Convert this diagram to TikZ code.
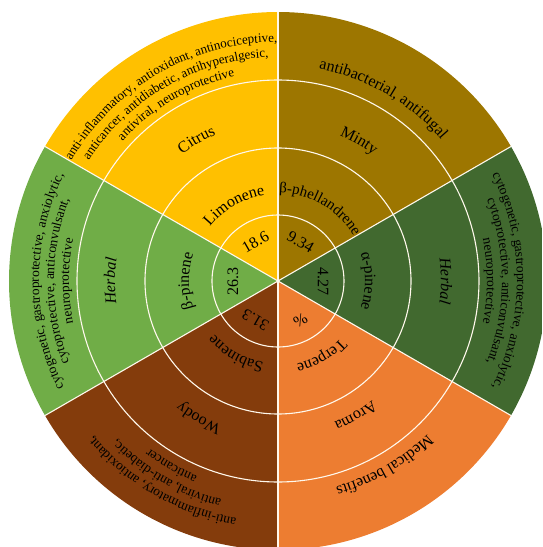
\documentclass[tikz,border=0pt]{standalone}
\usepackage{fontspec}
\setmainfont{Liberation Serif}
\usetikzlibrary{decorations.text}
\definecolor{cyel}{HTML}{FFC000}
\definecolor{cgold}{HTML}{9D7600}
\definecolor{cdkg}{HTML}{41692F}
\definecolor{corg}{HTML}{ED7D31}
\definecolor{cbrn}{HTML}{843C0C}
\definecolor{cltg}{HTML}{70AD47}
\definecolor{csep}{HTML}{FFF8EC}
\newcommand{\labfont}{\fontsize{16pt}{18pt}\selectfont}
\newcommand{\labfontb}{\fontsize{15pt}{18pt}\selectfont}
\newcommand{\multfont}{\fontsize{13.5pt}{15pt}\selectfont}
\newcommand{\multfontb}{\fontsize{13pt}{15pt}\selectfont}
% #1 centre angle, #2 baseline radius, #3 font, #4 text
\newcommand{\arctext}[4]{%
  \path[decorate,decoration={text along path,text align=center,text={|#3|#4}}]
    ({#1+31}:#2) arc[start angle={#1+31},end angle={#1-31},radius=#2];}
\tikzset{
  sepline/.style={draw=csep,line width=1.1pt},
  numlbl/.style={font=\fontsize{16pt}{18pt}\selectfont,inner sep=0pt,text=black},
}
\begin{document}
\begin{tikzpicture}
\useasboundingbox (-278pt,-266pt) rectangle (264pt,281pt);
\clip (-278pt,-266pt) rectangle (264pt,281pt);
% sectors
\foreach \a/\c in {90/cyel,30/cgold,-30/cdkg,-90/corg,-150/cbrn,150/cltg}
  \fill[\c] (0,0) -- (\a:269pt) arc[start angle=\a,end angle={\a+60},radius=269pt] -- cycle;
% rings and spokes
\foreach \r in {66,133,201}
  \draw[sepline] (0,0) circle[radius=\r pt];
\foreach \a in {90,30,-30,-90,-150,150}
  \draw[sepline] (0,0) -- (\a:269pt);
% inner ring: values
\node[numlbl,rotate=30]   (v1) at (120:45pt) {18.6};
\node[numlbl,rotate=-30]  (v2) at (60:45pt) {9.34};
\node[numlbl,rotate=-90]  (v3) at (0:45pt) {4.27};
\node[numlbl,rotate=-150] (v4) at (-60:45pt) {\%};
\node[numlbl,rotate=150]  (v5) at (-120:45pt) {31.3};
\node[numlbl,rotate=90]   (v6) at (180:45pt) {26.3};
% second ring: terpenes
\arctext{120}{87pt}{\labfont}{Limonene}
\arctext{60}{88pt}{\labfontb}{β-phellandrene}
\arctext{0}{87pt}{\labfont}{α-pinene}
\arctext{-60}{85pt}{\labfont}{Terpene}
\arctext{-120}{83pt}{\labfont}{Sabinene}
\arctext{180}{89pt}{\labfont}{β-pinene}
% third ring: aroma
\arctext{120}{159pt}{\labfont}{Citrus}
\arctext{60}{158pt}{\labfont}{Minty}
\arctext{0}{163pt}{\labfont\itshape}{Herbal}
\arctext{-60}{152pt}{\labfont}{Aroma}
\arctext{-120}{155pt}{\labfont}{Woody}
\arctext{180}{163pt}{\labfont\itshape}{Herbal}
% outer ring: medical benefits
\arctext{120}{239pt}{\multfontb}{anti-inflammatory, antioxidant, antinociceptive,}
\arctext{120}{224pt}{\multfontb}{anticancer, antidiabetic, antihyperalgesic,}
\arctext{120}{209pt}{\multfontb}{antiviral, neuroprotective}
\arctext{60}{216pt}{\labfont}{antibacterial, antifugal}
\arctext{0}{239pt}{\multfont}{cytogenetic, gastroprotective, anxiolytic,}
\arctext{0}{224pt}{\multfont}{cytoprotective, anticonvulsant,}
\arctext{0}{209pt}{\multfont}{neuroprotective}
\arctext{-60}{214pt}{\labfont}{Medical benefits}
\arctext{-120}{241pt}{\multfont}{anti-inflammatory, antioxidant,}
\arctext{-120}{226pt}{\multfont}{antiviral, anti-diabetic,}
\arctext{-120}{211pt}{\multfont}{anticancer}
\arctext{180}{239pt}{\multfont}{cytogenetic, gastroprotective, anxiolytic,}
\arctext{180}{224pt}{\multfont}{cytoprotective, anticonvulsant,}
\arctext{180}{209pt}{\multfont}{neuroprotective}
\end{tikzpicture}
\end{document}
